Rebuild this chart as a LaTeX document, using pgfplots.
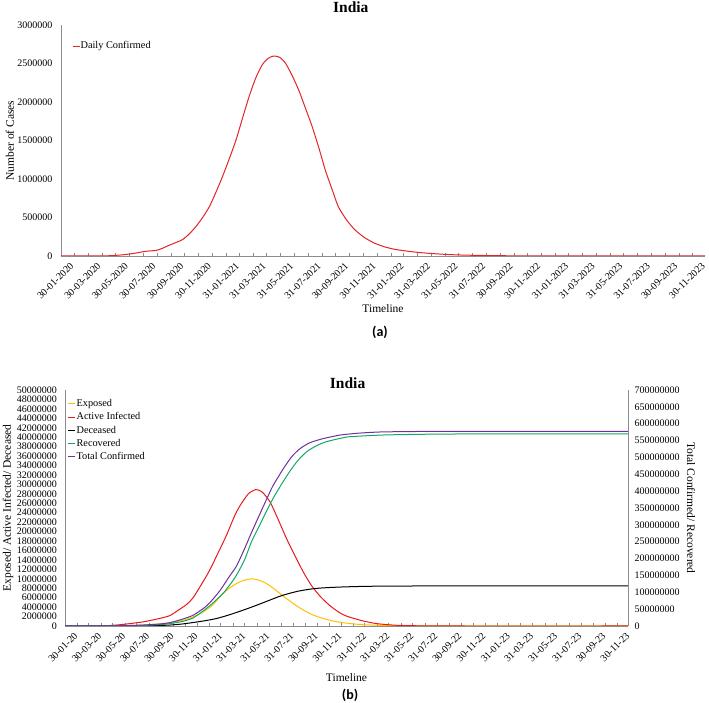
\documentclass[border=0pt]{standalone}
\usepackage{pgfplots}
\pgfplotsset{compat=1.18}
\usepackage{fontspec}
\setmainfont{Liberation Serif}
\newfontfamily\calibri{Carlito}
\definecolor{cDaily}{RGB}{226,36,40}
\definecolor{cExp}{RGB}{255,192,0}
\definecolor{cAct}{RGB}{232,24,28}
\definecolor{cDec}{RGB}{0,0,0}
\definecolor{cRec}{RGB}{20,168,100}
\definecolor{cTot}{RGB}{112,48,160}
\definecolor{axgray}{RGB}{140,140,140}

\pgfplotstableread{
day val
0 0
30 0
60 0
93 1000
110 4000
123 9000
140 17000
152 26000
170 42000
182 56000
196 66000
211 72000
225 100000
240 140000
255 175000
270 215000
285 290000
299 381000
314 500000
329 640000
343 820000
358 1030000
373 1260000
388 1506000
402 1780000
417 2069000
431 2300000
446 2481000
460 2570000
472 2597000
485 2580000
498 2502000
512 2350000
527 2156000
542 1920000
557 1679000
572 1400000
586 1117000
601 865000
615 640000
633 470000
652 338000
674 235000
696 165000
718 118000
740 87000
770 61000
800 42000
840 25000
880 14000
930 7000
1000 2500
1100 500
1200 0
1428 0
}\tabDaily

\pgfplotstableread{
day val
0 0
100 20000
150 80000
200 200000
241 450000
266 700000
309 1400000
351 3000000
375 4500000
393 6200000
415 7900000
435 9000000
455 9700000
473 10000000
492 9700000
511 9000000
530 7900000
554 6300000
580 4700000
604 3400000
630 2300000
655 1600000
675 1150000
697 800000
730 450000
757 280000
800 120000
850 50000
920 10000
1000 0
1428 0
}\tabExposed

\pgfplotstableread{
day val
0 0
60 0
100 50000
130 200000
156 420000
200 900000
241 1620000
266 2200000
283 3100000
309 4600000
325 6000000
351 9500000
368 12000000
393 16300000
410 19300000
430 23300000
444 25500000
465 28000000
484 28900000
500 28400000
520 26300000
540 22700000
562 18500000
584 14800000
604 11500000
625 8600000
647 6300000
672 4300000
697 2800000
714 2100000
735 1550000
757 1050000
780 650000
799 420000
841 150000
900 40000
1000 0
1428 0
}\tabActive

\pgfplotstableread{
day val
0 0
150 0
200 50000
241 120000
266 200000
300 450000
351 1060000
385 1600000
418 2400000
450 3300000
478 4150000
500 4850000
520 5500000
540 6150000
562 6750000
590 7350000
621 7800000
650 8050000
697 8250000
750 8380000
800 8440000
900 8480000
1000 8500000
1428 8500000
}\tabDeceased

\pgfplotstableread{
day val
0 0
100 100000
150 500000
200 1800000
241 4000000
266 7000000
300 14000000
325 24000000
351 45000000
375 68000000
401 97000000
420 125000000
435 151000000
455 195000000
473 250000000
490 290000000
510 338000000
528 379000000
550 422000000
571 460000000
590 490000000
613 517000000
640 536000000
664 547000000
700 557000000
723 561500000
807 566500000
900 568500000
1000 569500000
1428 569500000
}\tabRecovered

\pgfplotstableread{
day val
0 0
100 200000
150 1000000
200 3000000
241 6000000
266 10000000
300 21000000
325 32000000
351 52000000
368 70000000
393 105000000
417 147000000
435 178000000
455 228000000
473 277000000
498 342000000
511 375000000
527 415000000
554 467000000
575 502000000
596 526000000
620 543000000
652 555000000
696 566000000
740 571500000
800 575500000
900 577000000
1000 577300000
1428 577300000
}\tabTotal

\pgfplotsset{
  common/.style={
    scale only axis,
    xmin=0, xmax=1428,
    axis line style={draw=axgray, line width=0.8pt},
    tick label style={font=\fontsize{10}{11}\selectfont, text=black},
    /pgf/number format/assume math mode=true,
    yticklabel style={/pgf/number format/fixed, /pgf/number format/1000 sep={}},
    scaled y ticks=false,
    ytick style={draw=none},
    tick align=inside,
    major tick length=3pt,
    minor tick length=3pt,
    x tick style={draw=axgray, line width=0.6pt},
    minor x tick style={draw=axgray, line width=0.6pt},
    xtick={0,60,121,182,244,305,367,426,487,548,609,670,732,791,852,913,974,1035,1097,1156,1217,1278,1339,1400},
    minor xtick={30,91,152,213,274,335,395,456,517,579,640,701,760,821,882,944,1005,1066,1125,1186,1247,1309,1370},
    xticklabel style={rotate=45, anchor=north east, inner sep=1pt, yshift=-9pt, xshift=3pt},
    label style={font=\fontsize{11.5}{12}\selectfont},
    legend style={draw=none, fill=none, inner sep=0pt, outer sep=0pt,
      font=\fontsize{10.3}{11}\selectfont,
      nodes={inner sep=0.6pt}, row sep=3.3pt},
    legend cell align=left,
    legend image code/.code={\draw[#1, line width=1pt] (0pt,0pt) -- (7pt,0pt);},
    every axis plot/.append style={line width=1pt, mark=none, smooth, tension=0.4},
  }
}

\begin{document}
\begin{tikzpicture}
\useasboundingbox (0pt,0pt) rectangle (709pt,703pt);

% ---------------- (a) ----------------
\begin{axis}[common,
  at={(61pt,447pt)}, anchor=south west,
  width=644pt, height=231pt,
  axis x line*=bottom, axis y line*=left,
  ymin=0, ymax=3000000, ytick distance=500000,
  yticklabel style={xshift=-5pt},
  xticklabels={30-01-2020,30-03-2020,30-05-2020,30-07-2020,30-09-2020,30-11-2020,31-01-2021,31-03-2021,31-05-2021,31-07-2021,30-09-2021,30-11-2021,31-01-2022,31-03-2022,31-05-2022,31-07-2022,30-09-2022,30-11-2022,31-01-2023,31-03-2023,31-05-2023,31-07-2023,30-09-2023,30-11-2023},
  xlabel={Timeline},
  xlabel style={at={(axis description cs:0.5,-0.2294)}, anchor=center},
  ylabel={Number of Cases},
  ylabel style={at={(axis description cs:-0.0792,0.5)}, anchor=center},
  title={\textbf{India}},
  title style={at={(axis description cs:0.450,1.053)}, anchor=base, yshift=-6pt, font=\fontsize{15.5}{16}\selectfont},
  legend style={at={(axis description cs:0.0171,0.909)}, anchor=west},
]
\addplot[cDaily] table[x=day, y=val] {\tabDaily};
\addlegendentry{Daily Confirmed}
\end{axis}

% ---------------- (b) left ----------------
\begin{axis}[common,
  at={(65pt,77pt)}, anchor=south west,
  width=563pt, height=236pt,
  axis x line*=bottom, axis y line*=left,
  ymin=0, ymax=50000000, ytick distance=2000000,
  yticklabel style={xshift=-4.5pt},
  xticklabels={30-01-20,30-03-20,30-05-20,30-07-20,30-09-20,30-11-20,31-01-21,31-03-21,31-05-21,31-07-21,30-09-21,30-11-21,31-01-22,31-03-22,31-05-22,31-07-22,30-09-22,30-11-22,31-01-23,31-03-23,31-05-23,31-07-23,30-09-23,30-11-23},
  xlabel={Timeline},
  xlabel style={at={(axis description cs:0.5,-0.2203)}, anchor=center},
  ylabel={Exposed/ Active Infected/ Deceased},
  ylabel style={at={(axis description cs:-0.1012,0.5)}, anchor=center},
  title={\textbf{India}},
  title style={at={(axis description cs:0.502,1.0072)}, anchor=base, yshift=-6pt, font=\fontsize{15.5}{16}\selectfont},
  legend style={at={(axis description cs:0.0053,0.962)}, anchor=north west},
]
\addplot[cExp] table[x=day, y=val] {\tabExposed};
\addlegendentry{Exposed}
\addplot[cAct] table[x=day, y=val] {\tabActive};
\addlegendentry{Active Infected}
\addplot[cDec] table[x=day, y=val] {\tabDeceased};
\addlegendentry{Deceased}
\addlegendimage{cRec, line width=1pt}
\addlegendentry{Recovered}
\addlegendimage{cTot, line width=1pt}
\addlegendentry{Total Confirmed}
\end{axis}

% ---------------- (b) right ----------------
\begin{axis}[common,
  at={(65pt,77pt)}, anchor=south west,
  width=563pt, height=236pt,
  axis x line=none, axis y line*=right,
  ymin=0, ymax=700000000, ytick distance=50000000,
  yticklabel pos=right,
  yticklabel style={xshift=3pt},
  ylabel={Total Confirmed/ Recovered},
  ylabel style={at={(axis description cs:1.112,0.5)}, anchor=center, rotate=180},
]
\addplot[cRec] table[x=day, y=val] {\tabRecovered};
\addplot[cTot] table[x=day, y=val] {\tabTotal};
\end{axis}

\node[font=\calibri\bfseries\fontsize{14}{14}\selectfont] at (380pt,371pt) {(a)};
\node[font=\calibri\bfseries\fontsize{14}{14}\selectfont] at (350pt,8pt) {(b)};
\end{tikzpicture}
\end{document}
